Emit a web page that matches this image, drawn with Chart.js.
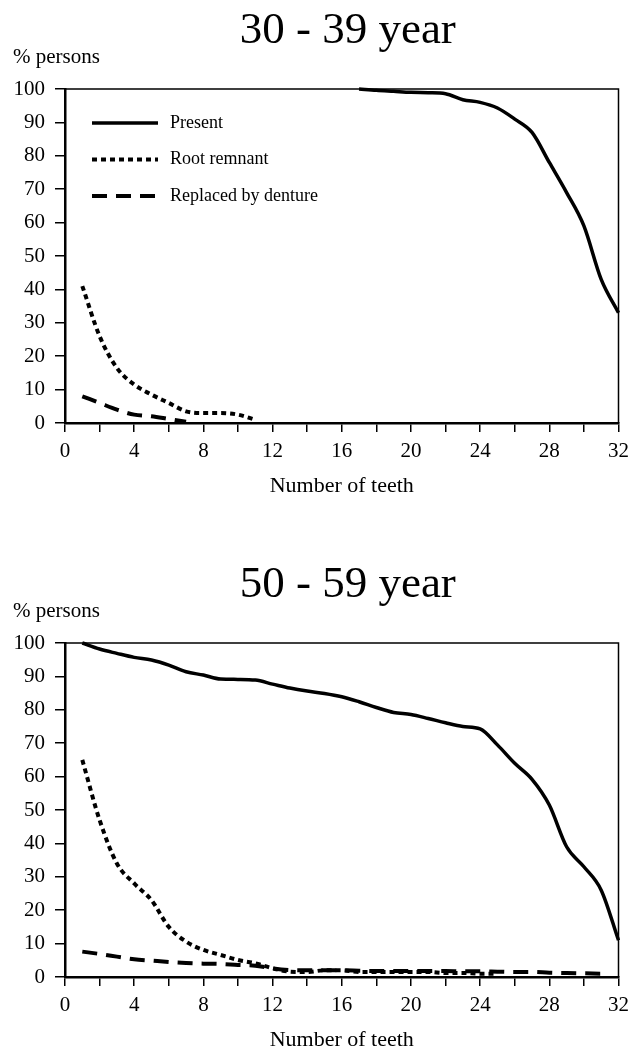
<!DOCTYPE html>
<html>
<head>
<meta charset="utf-8">
<script src="https://cdn.jsdelivr.net/npm/chart.js@4.4.0/dist/chart.umd.min.js"></script>
<style>
  html, body { margin: 0; padding: 0; background: #fff; overflow: hidden; }
  #page { position: relative; width: 636px; height: 1049px; overflow: hidden; }
  .panel { position: absolute; left: 0; width: 636px; height: 554px; }
</style>
</head>
<body>
<div id="page">
  <div class="panel" style="top:0"><canvas id="chart30" width="636" height="554"></canvas></div>
  <div class="panel" style="top:554px"><canvas id="chart50" width="636" height="554"></canvas></div>
</div>
<script>
// number of teeth (x values)
const teeth = [1, 2, 3, 4, 5, 6, 7, 8, 9, 10, 11, 12, 13, 14, 15, 16,
  17, 18, 19, 20, 21, 22, 23, 24, 25, 26, 27, 28, 29, 30, 31, 32];
const xTickLabels = [0, 4, 8, 12, 16, 20, 24, 28, 32];
const seriesNames = ["Present", "Root remnant", "Replaced by denture"];

// 30 - 39 year, % persons
const present30 = [null, null, null, null, null, null, null, null, null, null, null, null, null, null, null, null,
  100, 99.6, 99.3, 99, 98.9, 98.6, 96.8, 96, 94.3, 91, 87, 78, 69, 59, 43, 33];
const root30 = [41, 26, 16.5, 11.5, 8.5, 6, 3.5, 3, 3, 2.5, 1, null, null, null, null, null,
  null, null, null, null, null, null, null, null, null, null, null, null, null, null, null, null];
const denture30 = [8, 6, 4, 2.5, 2, 1.2, 0.4, null, null, null, null, null, null, null, null, null,
  null, null, null, null, null, null, null, null, null, null, null, null, null, null, null, null];

// 50 - 59 year, % persons
const present50 = [100, 98.2, 96.9, 95.7, 94.9, 93.4, 91.4, 90.4, 89.2, 89.1, 88.9, 87.7, 86.5, 85.6, 84.9, 83.9,
  82.4, 80.7, 79.2, 78.6, 77.4, 76.1, 75, 74.3, 69.5, 64, 59.2, 51.5, 39, 33, 26, 11];
const root50 = [65, 47, 34, 28, 23, 15, 10.6, 8.1, 6.6, 5.1, 4.1, 2.6, 1.6, 1.5, 2, 2,
  1.5, 1.5, 1.5, 1.5, 1.5, 1.2, 1.2, 1, 1, null, null, null, null, null, null, null];
const denture50 = [7.6, 6.9, 6.1, 5.3, 4.9, 4.5, 4.2, 4, 3.9, 3.6, 3.4, 2.6, 2.1, 2, 2, 2,
  1.9, 1.8, 1.8, 1.8, 1.8, 1.8, 1.7, 1.7, 1.6, 1.5, 1.5, 1.3, 1.2, 1.1, 1, null];

const serif = "'Liberation Serif', 'Times New Roman', serif";

// frame, panel title, "% persons" and the in-plot legend
const decorations = {
  id: "decorations",
  afterDraw(chart, args, opts) {
    const { ctx, chartArea: a } = chart;
    ctx.save();
    ctx.strokeStyle = "#000";
    ctx.lineWidth = 1.5;
    ctx.beginPath();
    ctx.moveTo(a.left, a.top);
    ctx.lineTo(a.right, a.top);
    ctx.lineTo(a.right, a.bottom);
    ctx.stroke();

    ctx.fillStyle = "#000";
    ctx.textBaseline = "alphabetic";
    ctx.textAlign = "center";
    ctx.font = "45px " + serif;
    ctx.fillText(opts.title, (a.left + a.right) / 2 + 6, a.top - 46);
    ctx.textAlign = "left";
    ctx.font = "21px " + serif;
    ctx.fillText("% persons", 13, a.top - 26);

    if (opts.legend) {
      ctx.font = "18px " + serif;
      ctx.textBaseline = "middle";
      chart.data.datasets.forEach((ds, i) => {
        const y = a.top + 34 + i * 36.5;
        const x0 = a.left + 27;
        ctx.setLineDash(ds.borderDash || []);
        ctx.lineWidth = ds.borderWidth;
        ctx.beginPath();
        ctx.moveTo(x0, y);
        ctx.lineTo(x0 + 66, y);
        ctx.stroke();
        ctx.setLineDash([]);
        ctx.fillText(ds.label, x0 + 78, y);
      });
    }
    ctx.restore();
  }
};

function points(values) {
  return values.map((v, i) => ({ x: teeth[i], y: v }));
}

function makeChart(id, title, present, root, denture, showLegend) {
  return new Chart(document.getElementById(id), {
    type: "line",
    data: {
      datasets: [
        { label: seriesNames[0], data: points(present), borderColor: "#000", borderWidth: 3.5, borderDash: [] },
        { label: seriesNames[1], data: points(root), borderColor: "#000", borderWidth: 4, borderDash: [5, 4] },
        { label: seriesNames[2], data: points(denture), borderColor: "#000", borderWidth: 4, borderDash: [15, 9] },
      ],
    },
    options: {
      responsive: false,
      animation: false,
      clip: false,
      layout: { padding: { top: 89, left: 10, right: 14, bottom: 51 } },
      elements: {
        point: { radius: 0 },
        line: { cubicInterpolationMode: "monotone", borderCapStyle: "butt" },
      },
      plugins: {
        legend: { display: false },
        tooltip: { enabled: false },
        decorations: { title, legend: showLegend },
      },
      scales: {
        x: {
          type: "linear",
          min: 0,
          max: 32,
          afterFit: (s) => { s.height = 80; },
          ticks: {
            stepSize: 2,
            autoSkip: false,
            maxRotation: 0,
            padding: 7,
            color: "#000",
            font: { family: serif, size: 21 },
            callback: (v) => (xTickLabels.includes(v) ? String(v) : ""),
          },
          grid: { drawOnChartArea: false, color: "#000", lineWidth: 1.5, tickLength: 9 },
          border: { color: "#000", width: 2.5 },
          title: { display: true, text: "Number of teeth", color: "#000", font: { family: serif, size: 22 } },
        },
        y: {
          min: 0,
          max: 100,
          afterFit: (s) => { s.width = 55; },
          ticks: { stepSize: 10, padding: 10, color: "#000", font: { family: serif, size: 21 } },
          grid: { drawOnChartArea: false, color: "#000", lineWidth: 1.5, tickLength: 10 },
          border: { color: "#000", width: 2.5 },
        },
      },
    },
    plugins: [decorations],
  });
}

makeChart("chart30", "30 - 39 year", present30, root30, denture30, true);
makeChart("chart50", "50 - 59 year", present50, root50, denture50, false);
</script>
</body>
</html>
